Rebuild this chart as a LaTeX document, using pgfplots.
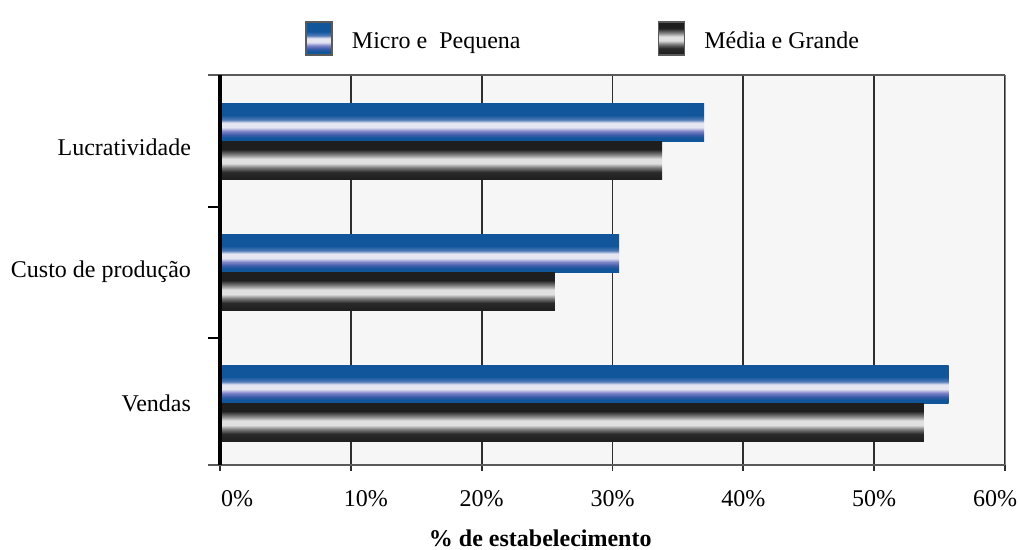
\documentclass[border=0pt]{standalone}
\usepackage{fontspec}
\setmainfont{Liberation Serif}
\usepackage{pgfplots}
\usepackage{pgfplotstable}
\pgfplotsset{compat=1.18}

% bar colours
\definecolor{bdark}{HTML}{11569A}
\definecolor{bmidA}{HTML}{3A5AA8}
\definecolor{bmidB}{HTML}{7D84C8}
\definecolor{blight}{HTML}{E6E6F3}
\definecolor{bmidC}{HTML}{4F7AB8}
\definecolor{kdark}{HTML}{1E1E1E}
\definecolor{kmidA}{HTML}{2A2A2A}
\definecolor{kmidB}{HTML}{7A7A7A}
\definecolor{klight}{HTML}{E0E0E0}
\definecolor{kmidC}{HTML}{8A8A8A}
\definecolor{gridc}{HTML}{2E2E2E}
\definecolor{framec}{HTML}{5A5A5A}
\definecolor{plotbg}{HTML}{F6F6F6}

% cylindrical-looking stripes across each bar (path spans 25bp..75bp)
\pgfdeclareverticalshading{barblue}{100bp}{color(0bp)=(bdark); color(25bp)=(bdark);
  color(30bp)=(bdark); color(34bp)=(bmidA); color(39bp)=(bmidB); color(44bp)=(blight);
  color(50bp)=(blight); color(54bp)=(bmidC); color(60bp)=(bdark); color(75bp)=(bdark);
  color(100bp)=(bdark)}
\pgfdeclareverticalshading{barblack}{100bp}{color(0bp)=(kdark); color(25bp)=(kdark);
  color(35bp)=(kmidA); color(41bp)=(kmidB); color(46.5bp)=(klight); color(52.5bp)=(klight);
  color(57.5bp)=(kmidC); color(65bp)=(kdark); color(75bp)=(kdark); color(100bp)=(kdark)}

\pgfplotstableread{
y  micro media
0  55.7  53.8
1  30.5  25.6
2  37.0  33.8
}\datatab

\pgfplotsset{
  microbar/.style={bar shift=0.145, draw=none, shade, shading=barblue},
  mediabar/.style={bar shift=-0.145, draw=none, shade, shading=barblack},
}

\begin{document}
\begin{tikzpicture}[font=\fontsize{12}{14}\selectfont]
\begin{axis}[
  at={(0,0)}, anchor=south west,
  scale only axis,
  width=392.5pt, height=195pt,
  xbar,
  bar width=0.29,
  xmin=0, xmax=60,
  ymin=-0.47, ymax=2.51,
  clip=false,
  axis background/.style={fill=plotbg},
  axis line style={draw=none},
  xtick={0,10,...,60},
  xticklabels={\hspace*{17pt}0\%,\hspace*{15pt}10\%,20\%,30\%,40\%,50\%,60\%\hspace*{10pt}},
  xtick pos=bottom,
  xtick align=outside,
  major tick length=3pt,
  x tick style={gridc, line width=0.9pt},
  xmajorgrids,
  x grid style={gridc, line width=0.9pt},
  xticklabel style={yshift=-6pt},
  ytick={0,1.01,1.955},
  yticklabels={Vendas\ , Custo de produção, Lucratividade},
  y tick style={draw=none},
  yticklabel style={xshift=-8pt},
  /pgf/number format/assume math mode=true,
  xlabel={\bfseries\% de estabelecimento},
  xlabel style={at={(axis description cs:0.408,0)}, anchor=center, yshift=-36.5pt},
  legend image code/.code={\draw[#1, draw=framec, line width=0.9pt] (0pt,-6.5pt) rectangle (13pt,10pt);},
  legend columns=2,
  legend style={at={(axis description cs:0.108,1)}, anchor=south west, yshift=9.5pt,
    draw=none, fill=none, inner sep=0pt,
    nodes={inner sep=0pt, anchor=west},
    /tikz/every odd column/.append style={column sep=9.5pt},
    /tikz/every even column/.append style={column sep=68.5pt}},
]
% one path per bar so that each bar gets its own shading
\addplot[microbar, restrict y to domain=1.9:2.1] table[x=micro, y=y] {\datatab};
\addplot[mediabar, restrict y to domain=1.9:2.1] table[x=media, y=y] {\datatab};
\addplot[microbar, forget plot, restrict y to domain=0.9:1.1] table[x=micro, y=y] {\datatab};
\addplot[mediabar, forget plot, restrict y to domain=0.9:1.1] table[x=media, y=y] {\datatab};
\addplot[microbar, forget plot, restrict y to domain=-0.1:0.1] table[x=micro, y=y] {\datatab};
\addplot[mediabar, forget plot, restrict y to domain=-0.1:0.1] table[x=media, y=y] {\datatab};
\legend{Micro e\ \ Pequena, Média e Grande}

% frame: heavy left spine, grey top and bottom, thin right edge
\draw[framec, line width=1pt] ([xshift=-6pt]rel axis cs:0,1) -- (rel axis cs:1,1);
\draw[framec, line width=1pt] ([xshift=-6pt]rel axis cs:0,0) -- (rel axis cs:1,0);
\draw[gray, line width=0.5pt] (rel axis cs:1,0) -- (rel axis cs:1,1);
\draw[black, line width=2pt] (rel axis cs:0,0) -- (rel axis cs:0,1);
% small separators between categories
\draw[black, line width=0.9pt] (axis cs:0,0.5) -- ++(-6pt,0pt);
\draw[black, line width=0.9pt] (axis cs:0,1.5) -- ++(-6pt,0pt);
\end{axis}
\pgfresetboundingbox
\useasboundingbox (-110pt,-42.5pt) rectangle (400pt,232.5pt);
\end{tikzpicture}
\end{document}
